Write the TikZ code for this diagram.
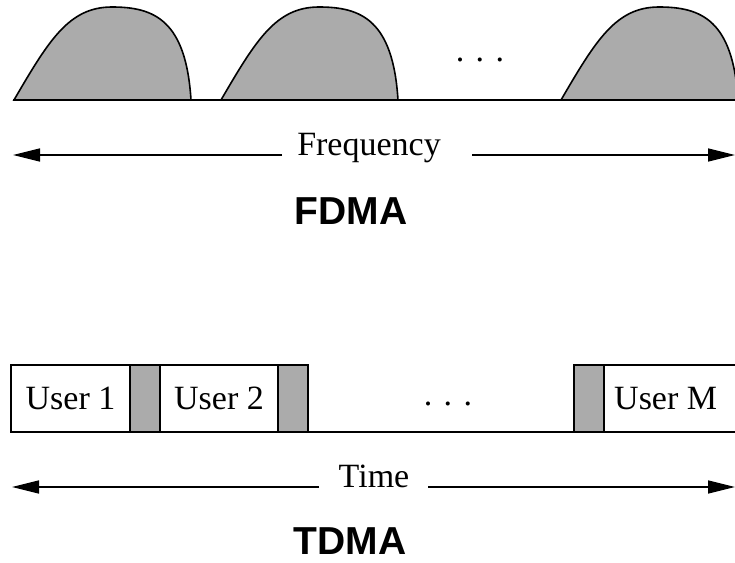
\documentclass[tikz,border=0pt]{standalone}
\usepackage{fontspec}
\setmainfont{Liberation Serif}
\newfontfamily\headfont{Liberation Sans}
\usetikzlibrary{arrows.meta}
\tikzset{
  hump/.style={draw=black, line width=1.6pt, fill=black!33},
  axisline/.style={line width=1.5pt},
  bigarrow/.style={line width=1.5pt, -{Triangle[length=27pt,width=13pt]}},
  lbl/.style={font=\fontsize{34}{40}\selectfont, inner sep=0pt},
  head/.style={font=\headfont\bfseries\fontsize{39}{44}\selectfont, inner sep=0pt},
  slot/.style={draw=black, line width=1.6pt, fill=white, minimum height=67pt, inner sep=0pt, font=\fontsize{34}{40}\selectfont},
  guard/.style={draw=black, line width=1.6pt, fill=black!33, minimum height=67pt, minimum width=30pt, inner sep=0pt}
}
\begin{document}
\begin{tikzpicture}[x=1pt,y=-1pt]
\useasboundingbox (0,0) rectangle (735,562);
\begin{scope}
\clip (0,0) rectangle (735,562);
% FDMA humps
\foreach \x/\n in {14/h1,221/h2,561/h3}{
  \draw[hump] (\x,100) .. controls (\x+35,40) and (\x+55,7) .. (\x+98,7)
     .. controls (\x+140,7) and (\x+172,20) .. (\x+177,100) -- cycle;
}
\draw[axisline] (13,100) -- (735,100);
\node[lbl, anchor=base] (fdots) at (480,61) {. . .};
% Frequency axis
\node[lbl, anchor=base] (freq) at (369,155) {Frequency};
\coordinate (fl) at (282,155);
\coordinate (fr) at (472,155);
\coordinate (fleft) at (13,155);
\coordinate (fright) at (735,155);
\draw[bigarrow] (fl) -- (fleft);
\draw[bigarrow] (fr) -- (fright);
\node[head] (fdma) at (351,211) {FDMA};
% TDMA slots
\node[slot, minimum width=119pt] (u1) at (70.5,398.5) {User 1};
\node[guard] (g1) at (145,398.5) {};
\node[slot, minimum width=118pt] (u2) at (219,398.5) {User 2};
\node[guard] (g2) at (293,398.5) {};
\node[guard] (g3) at (589,398.5) {};
\draw[line width=1.6pt, fill=white] (604,365) rectangle (745,432);
\node[lbl, anchor=west] (um) at (614,398.5) {User M};
\coordinate (tb0) at (11,432);
\coordinate (tb1) at (735,432);
\draw[axisline] (tb0) -- (tb1);
\node[lbl, anchor=base] (tdots) at (448,405) {. . .};
% Time axis
\node[lbl, anchor=base] (time) at (374,487) {Time};
\coordinate (tl) at (319,487);
\coordinate (tr) at (428,487);
\coordinate (tleft) at (12,487);
\coordinate (tright) at (735,487);
\draw[bigarrow] (tl) -- (tleft);
\draw[bigarrow] (tr) -- (tright);
\node[head] (tdma) at (350,541) {TDMA};
\end{scope}
\end{tikzpicture}
\end{document}
